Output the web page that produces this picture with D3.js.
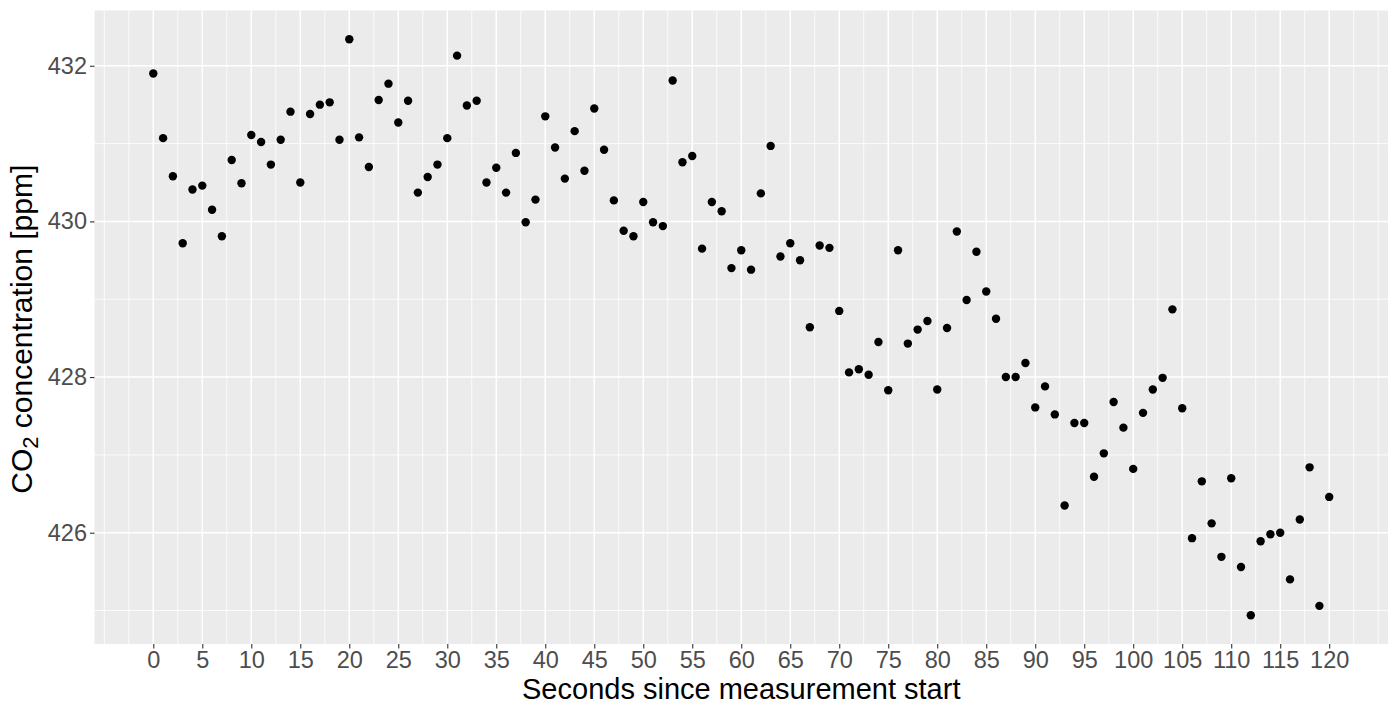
<!DOCTYPE html>
<html>
<head>
<meta charset="utf-8">
<script src="https://cdn.jsdelivr.net/npm/d3@7"></script>
<style>
  body { margin: 0; background: #fff; }
  svg text { font-family: "Liberation Sans", Arial, sans-serif; }
</style>
</head>
<body>
<div id="chart"></div>
<script>
// seconds since start of the measurement
const seconds = [
    0, 1, 2, 3, 4, 5, 6, 7, 8, 9, 10, 11, 12, 13, 14, 15, 16, 17, 18, 19,
    20, 21, 22, 23, 24, 25, 26, 27, 28, 29, 30, 31, 32, 33, 34, 35, 36, 37, 38, 39,
    40, 41, 42, 43, 44, 45, 46, 47, 48, 49, 50, 51, 52, 53, 54, 55, 56, 57, 58, 59,
    60, 61, 62, 63, 64, 65, 66, 67, 68, 69, 70, 71, 72, 73, 74, 75, 76, 77, 78, 79,
    80, 81, 82, 83, 84, 85, 86, 87, 88, 89, 90, 91, 92, 93, 94, 95, 96, 97, 98, 99,
    100, 101, 102, 103, 104, 105, 106, 107, 108, 109, 110, 111, 112, 113, 114, 115,
    116, 117, 118, 119, 120
];

// CO2 concentration in ppm, one reading per second
const co2 = [
    431.90, 431.07, 430.58, 429.72, 430.41, 430.46, 430.15, 429.81, 430.79, 430.49,
    431.11, 431.02, 430.73, 431.05, 431.41, 430.50, 431.38, 431.50, 431.53, 431.05,
    432.34, 431.08, 430.70, 431.56, 431.77, 431.27, 431.55, 430.37, 430.57, 430.73,
    431.07, 432.13, 431.49, 431.55, 430.50, 430.69, 430.37, 430.88, 429.99, 430.28,
    431.35, 430.95, 430.55, 431.16, 430.65, 431.45, 430.92, 430.27, 429.88, 429.81,
    430.25, 429.99, 429.94, 431.81, 430.76, 430.84, 429.65, 430.25, 430.13, 429.40,
    429.63, 429.38, 430.36, 430.97, 429.55, 429.72, 429.50, 428.64, 429.69, 429.66,
    428.85, 428.06, 428.10, 428.03, 428.45, 427.83, 429.63, 428.43, 428.61, 428.72,
    427.84, 428.63, 429.87, 428.99, 429.61, 429.10, 428.75, 428.00, 428.00, 428.18,
    427.61, 427.88, 427.52, 426.35, 427.41, 427.41, 426.72, 427.02, 427.68, 427.35,
    426.82, 427.54, 427.84, 427.99, 428.87, 427.60, 425.93, 426.66, 426.12, 425.69,
    426.70, 425.56, 424.94, 425.89, 425.98, 426.00, 425.40, 426.17, 426.84, 425.06,
    426.46
];

const xTicks = [0, 5, 10, 15, 20, 25, 30, 35, 40, 45, 50, 55, 60, 65, 70, 75, 80, 85, 90, 95, 100, 105, 110, 115, 120];
const xMinor = [-5, -2.5, 2.5, 7.5, 12.5, 17.5, 22.5, 27.5, 32.5, 37.5, 42.5, 47.5, 52.5, 57.5, 62.5, 67.5, 72.5, 77.5, 82.5, 87.5, 92.5, 97.5, 102.5, 107.5, 112.5, 117.5, 122.5, 125];
const yTicks = [426, 428, 430, 432];
const yMinor = [425, 427, 429, 431];

function makeChart() {
    const width = 1388,
        height = 709,
        panel = { left: 94.5, right: 1388, top: 10.5, bottom: 644 };

    // ggplot style 5% expansion of the data range
    function expand(ext) {
        const pad = (ext[1] - ext[0]) * 0.05;
        return [ext[0] - pad, ext[1] + pad];
    }

    const x = d3.scaleLinear()
        .domain(expand(d3.extent(seconds)))
        .range([panel.left, panel.right]);

    const y = d3.scaleLinear()
        .domain(expand(d3.extent(co2)))
        .range([panel.bottom, panel.top]);

    const svg = d3.select('#chart').append('svg')
        .attr('width', width)
        .attr('height', height);

    // panel background
    svg.append('rect')
        .attr('x', panel.left)
        .attr('y', panel.top)
        .attr('width', panel.right - panel.left)
        .attr('height', panel.bottom - panel.top)
        .attr('fill', '#EBEBEB');

    const grid = svg.append('g').attr('class', 'grid');

    grid.selectAll('.xminor')
        .data(xMinor)
        .enter().append('line')
        .attr('x1', d => x(d)).attr('x2', d => x(d))
        .attr('y1', panel.top).attr('y2', panel.bottom)
        .attr('stroke', '#fff').attr('stroke-width', 0.8);

    grid.selectAll('.yminor')
        .data(yMinor)
        .enter().append('line')
        .attr('x1', panel.left).attr('x2', panel.right)
        .attr('y1', d => y(d)).attr('y2', d => y(d))
        .attr('stroke', '#fff').attr('stroke-width', 0.8);

    grid.selectAll('.xmajor')
        .data(xTicks)
        .enter().append('line')
        .attr('x1', d => x(d)).attr('x2', d => x(d))
        .attr('y1', panel.top).attr('y2', panel.bottom)
        .attr('stroke', '#fff').attr('stroke-width', 1.5);

    grid.selectAll('.ymajor')
        .data(yTicks)
        .enter().append('line')
        .attr('x1', panel.left).attr('x2', panel.right)
        .attr('y1', d => y(d)).attr('y2', d => y(d))
        .attr('stroke', '#fff').attr('stroke-width', 1.5);

    // axes, ggplot look: grey ticks, no domain line
    const xAxis = d3.axisBottom(x)
        .tickValues(xTicks)
        .tickSize(4.5)
        .tickPadding(3)
        .tickFormat(d3.format('d'));

    const yAxis = d3.axisLeft(y)
        .tickValues(yTicks)
        .tickSize(4.5)
        .tickPadding(3)
        .tickFormat(d3.format('d'));

    const gx = svg.append('g')
        .attr('transform', 'translate(0,' + panel.bottom + ')')
        .call(xAxis);

    const gy = svg.append('g')
        .attr('transform', 'translate(' + panel.left + ',0)')
        .call(yAxis);

    [gx, gy].forEach(g => {
        g.select('.domain').remove();
        g.selectAll('.tick line').attr('stroke', '#333333').attr('stroke-width', 1.1);
        g.selectAll('.tick text')
            .attr('fill', '#4D4D4D')
            .style('font-size', '23.5px');
    });

    // points
    svg.append('g')
        .selectAll('circle')
        .data(seconds)
        .enter().append('circle')
        .attr('cx', d => x(d))
        .attr('cy', (d, i) => y(co2[i]))
        .attr('r', 4.2)
        .attr('fill', '#000');

    // axis titles
    svg.append('text')
        .attr('x', (panel.left + panel.right) / 2)
        .attr('y', 699)
        .attr('text-anchor', 'middle')
        .style('font-size', '29px')
        .attr('fill', '#000')
        .text('Seconds since measurement start');

    const yTitle = svg.append('text')
        .attr('transform', 'translate(32,' + ((panel.top + panel.bottom) / 2 + 2) + ') rotate(-90)')
        .attr('text-anchor', 'middle')
        .style('font-size', '30px')
        .attr('fill', '#000');
    yTitle.append('tspan').text('CO');
    yTitle.append('tspan').attr('dy', 6).style('font-size', '22px').text('2');
    yTitle.append('tspan').attr('dy', -6).text(' concentration [ppm]');
}

makeChart();
</script>
</body>
</html>
